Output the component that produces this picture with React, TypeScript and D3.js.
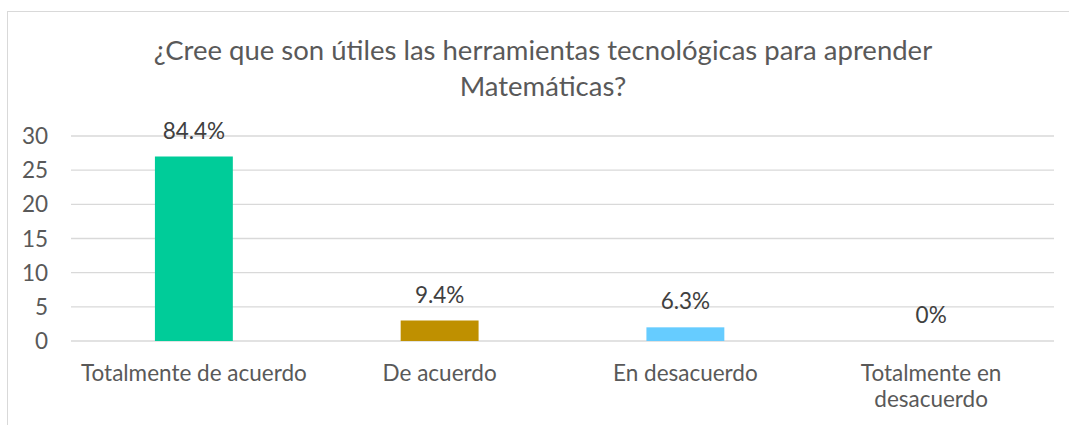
import React from "react";
import * as d3 from "d3";

const categories: string[][] = [
  ["Totalmente de acuerdo"],
  ["De acuerdo"],
  ["En desacuerdo"],
  ["Totalmente en", "desacuerdo"],
];
const values: number[] = [27, 3, 2, 0];
const labels: string[] = ["84.4%", "9.4%", "6.3%", "0%"];
const colors: string[] = ["#00CC99", "#BF9000", "#66CCFF", "#A5A5A5"];
const yTicks: number[] = [0, 5, 10, 15, 20, 25, 30];
const titleLines: string[] = [
  "¿Cree que son útiles las herramientas tecnológicas para aprender",
  "Matemáticas?",
];

const W = 1069;
const H = 425;
const FONT = "Lato, 'Open Sans', sans-serif";

export default function App() {
  const left = 71;
  const right = 1054;
  const top = 136;
  const bottom = 341;
  const x = d3
    .scaleBand<number>()
    .domain(d3.range(categories.length))
    .range([left, right])
    .paddingInner(0.683)
    .paddingOuter(0.3415);
  const y = d3.scaleLinear().domain([0, 30]).range([bottom, top]);

  return (
    <svg
      width={W}
      height={H}
      style={{ position: "absolute", left: 0, top: 0, background: "#fff" }}
    >
      <rect x={7.5} y={11.5} width={W + 10} height={H + 10} fill="#fff" stroke="#D9D9D9" strokeWidth={1} />
      {titleLines.map((t, i) => (
        <text
          key={i}
          x={543}
          y={60 + i * 36}
          textAnchor="middle"
          fontFamily={FONT}
          fontSize={27.5}
          fill="#595959"
        >
          {t}
        </text>
      ))}
      {yTicks.map((t) => (
        <g key={t}>
          <line x1={left} x2={right} y1={y(t)} y2={y(t)} stroke="#D9D9D9" strokeWidth={1.3} />
          <text
            x={48}
            y={y(t) + 8}
            textAnchor="end"
            fontFamily={FONT}
            fontSize={22.5}
            fill="#595959"
          >
            {t}
          </text>
        </g>
      ))}
      {values.map((v, i) => (
        <g key={i}>
          {v > 0 && (
            <rect
              x={x(i)!}
              y={y(v)}
              width={x.bandwidth()}
              height={y(0) - y(v)}
              fill={colors[i]}
            />
          )}
          <text
            x={x(i)! + x.bandwidth() / 2}
            y={y(v) - 18}
            textAnchor="middle"
            fontFamily={FONT}
            fontSize={22.5}
            fill="#404040"
          >
            {labels[i]}
          </text>
          {categories[i].map((line, j) => (
            <text
              key={j}
              x={x(i)! + x.bandwidth() / 2}
              y={381 + j * 26}
              textAnchor="middle"
              fontFamily={FONT}
              fontSize={22.5}
              fill="#595959"
            >
              {line}
            </text>
          ))}
        </g>
      ))}
    </svg>
  );
}
